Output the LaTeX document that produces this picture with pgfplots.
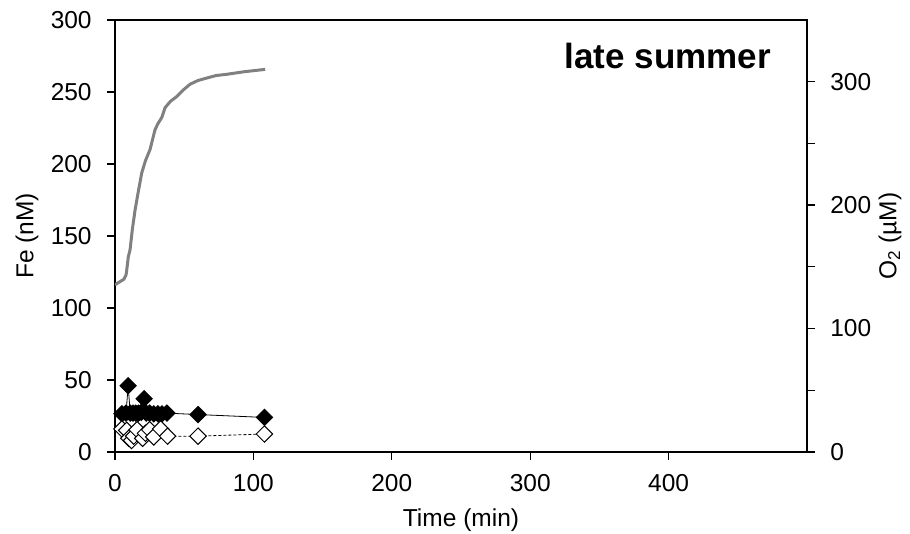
\documentclass[border=0pt]{standalone}
\usepackage{fontspec}
\setmainfont{Liberation Sans}
\usepackage{pgfplots}
\pgfplotsset{compat=1.18}
\definecolor{ogrey}{RGB}{128,128,128}
\begin{document}
\fontsize{24.5}{29}\selectfont
\begin{tikzpicture}
\path[use as bounding box] (-115pt,-82pt) rectangle (795pt,452pt);
\begin{axis}[
  scale only axis, width=692pt, height=432pt,
  xmin=0, xmax=500, ymin=0, ymax=300,
  xtick={0,100,200,300,400}, ytick={0,50,...,300},
  xtick pos=bottom, ytick pos=left, tick align=outside,
  major tick length=8pt,
  axis line style={line width=1.3pt, black},
  tick style={line width=1.3pt, black},
  /pgf/number format/assume math mode=true,
  ticklabel style={font=\fontsize{24.5}{29}\selectfont},
  label style={font=\fontsize{24.5}{29}\selectfont},
  yticklabel style={xshift=-7pt},
  xticklabel style={yshift=-6pt},
  xlabel={Time (min)},
  ylabel={Fe (nM)},
  xlabel style={at={(axis description cs:0.5,-0.1736)}, anchor=base},
  ylabel style={at={(axis description cs:-0.127,0.5)}, anchor=center},
]
\addplot[black, line width=0.8pt, mark=square*, mark size=5.8pt,
  mark options={rotate=45, solid, fill=black}] coordinates {
(5,26.5) (8,27) (9.5,46) (11,27) (13,27) (15,27) (17,27) (19,27.5)
(21,37) (22.5,27) (25,27) (28,26.5) (31,26.5) (34,26.5) (37.5,27)
(60,26) (108,24)
};
\addplot[black, line width=0.8pt, dash pattern=on 3pt off 2pt, mark=square*, mark size=5.8pt,
  mark options={rotate=45, solid, fill=white, line width=1pt}] coordinates {
(5,16) (8.5,15) (10,9.5) (12,8) (13.5,11) (16,15.5) (20,9.5) (22,13)
(25,15.5) (28,10.5) (33,16) (38,11) (60,11) (108,12.5)
};
\node[anchor=base east, inner sep=0pt, font=\bfseries\fontsize{35}{40}\selectfont]
  at (axis description cs:0.948,0.887) {late summer};
\end{axis}
\begin{axis}[
  scale only axis, width=692pt, height=432pt,
  xmin=0, xmax=500, ymin=0, ymax=350,
  axis x line=none, axis y line*=right,
  ytick={0,100,200,300}, minor ytick={50,150,250},
  tick align=outside, major tick length=8pt, minor tick length=8pt,
  axis line style={line width=1.3pt, black},
  tick style={line width=1.3pt, black},
  /pgf/number format/assume math mode=true,
  ticklabel style={font=\fontsize{24.5}{29}\selectfont},
  label style={font=\fontsize{24.5}{29}\selectfont},
  yticklabel style={xshift=7pt},
  ylabel={O\textsubscript{2} (µM)},
  ylabel style={at={(axis description cs:1.12,0.5)}, anchor=center},
]
\addplot[ogrey, line width=3pt, line join=round] coordinates {
(0,135.5) (3.6,138) (6.5,140) (8,143.6) (8.5,147.6) (9.6,158) (10.9,164)
(12.5,180) (14.5,196) (17,212) (19.3,226) (22,236) (25.3,245) (28.9,261)
(31,266) (33.8,271) (36.2,279) (40,284) (44.6,288) (49,293) (54.3,298)
(60,301) (66.4,303) (73,305) (80.8,306) (92.8,308) (108.5,310)
};
\end{axis}
\end{tikzpicture}
\end{document}
